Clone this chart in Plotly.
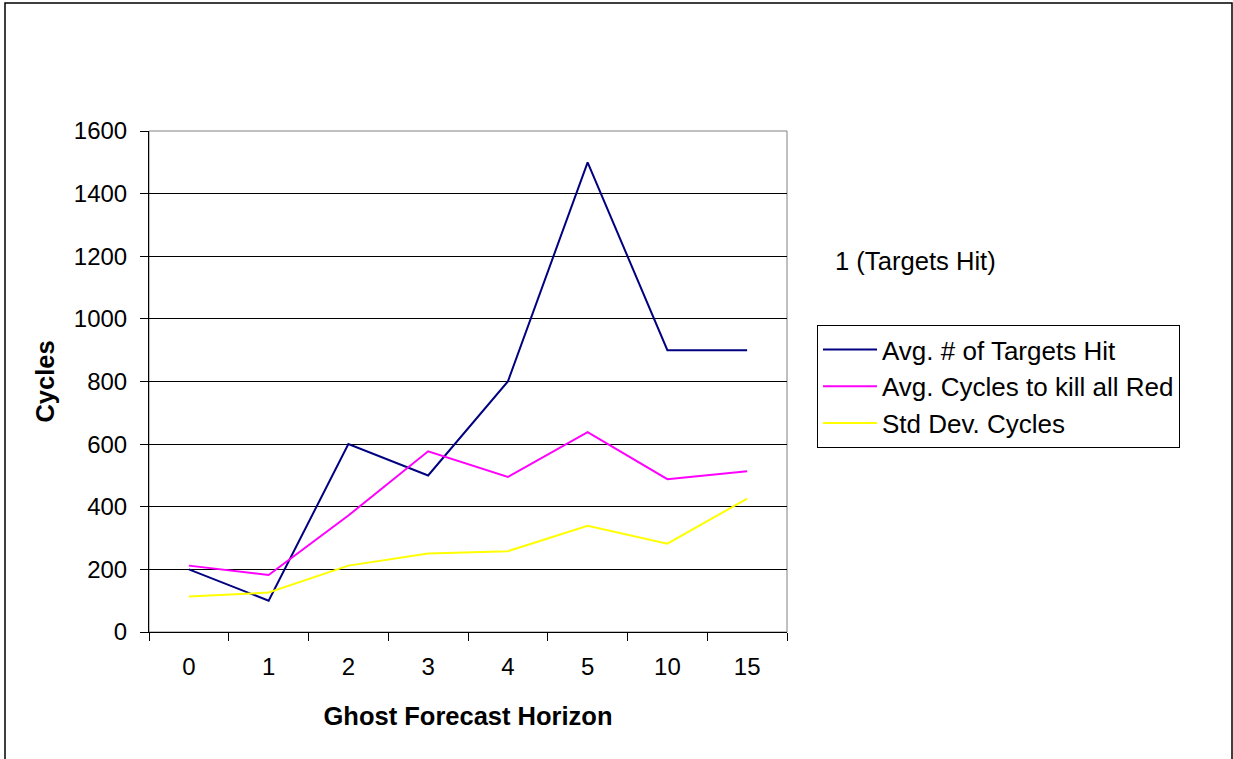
import plotly.graph_objects as go

categories = ["0", "1", "2", "3", "4", "5", "10", "15"]
targets_hit = [200, 100, 600, 500, 800, 1500, 900, 900]
cycles_kill = [212, 182, 372, 577, 495, 638, 488, 513]
std_dev = [113, 126, 212, 251, 258, 339, 282, 426]
y_ticks = [0, 200, 400, 600, 800, 1000, 1200, 1400, 1600]

FONT = "Liberation Sans, Arial, sans-serif"
W, H = 1233, 759
L, R, T, B = 149, 787, 131, 632
pw, ph = R - L, B - T

def px(x):
    return (x - L) / pw

def py(y):
    return (B - y) / ph

fig = go.Figure()
fig.add_trace(go.Scatter(x=categories, y=targets_hit, mode="lines",
                         name="Avg. # of Targets Hit",
                         line=dict(color="#000080", width=2)))
fig.add_trace(go.Scatter(x=categories, y=cycles_kill, mode="lines",
                         name="Avg. Cycles to kill all Red",
                         line=dict(color="#FF00FF", width=2)))
fig.add_trace(go.Scatter(x=categories, y=std_dev, mode="lines",
                         name="Std Dev. Cycles",
                         line=dict(color="#FFFF00", width=2)))

fig.update_layout(
    width=W, height=H,
    margin=dict(l=L, r=W - R, t=T, b=H - B, pad=0),
    paper_bgcolor="white", plot_bgcolor="white",
    font=dict(family=FONT, size=24, color="black"),
    showlegend=True,
    legend=dict(
        x=px(817), y=py(325), xanchor="left", yanchor="top",
        bordercolor="black", borderwidth=1, bgcolor="white",
        font=dict(family=FONT, size=26, color="black"),
        tracegroupgap=0, itemwidth=54,
    ),
    xaxis=dict(
        type="category", range=[-0.5, 7.5],
        showline=True, linecolor="black", linewidth=1,
        ticks="outside", ticklen=8, tickcolor="black", tickwidth=1,
        tickson="boundaries", showgrid=False, zeroline=False,
        tickfont=dict(size=24), ticklabelstandoff=13,
        title=dict(text="<b>Ghost Forecast Horizon</b>", font=dict(size=25.5), standoff=28),
    ),
    yaxis=dict(
        range=[0, 1600], tickvals=y_ticks,
        showline=True, linecolor="black", linewidth=1,
        ticks="outside", ticklen=8, tickcolor="black", tickwidth=1,
        showgrid=True, gridcolor="black", gridwidth=1, zeroline=False,
        tickfont=dict(size=24), ticklabelstandoff=8,
        title=dict(text="<b>Cycles</b>", font=dict(size=25.5), standoff=11),
    ),
    shapes=[
        dict(type="rect", xref="paper", yref="paper", x0=0, x1=1, y0=0, y1=1,
             line=dict(color="#808080", width=1), layer="below"),
        dict(type="rect", xref="paper", yref="paper",
             x0=px(5), x1=px(1232), y0=py(790), y1=py(3),
             line=dict(color="black", width=1.5)),
    ],
    annotations=[
        dict(text="1 (Targets Hit)", xref="paper", yref="paper",
             x=px(833), y=py(261), xanchor="left", yanchor="middle",
             showarrow=False, font=dict(size=25.6, color="black")),
    ],
)

fig.write_html("out.html", config={"displayModeBar": False},
               post_script="document.body.style.margin='0';document.body.style.overflow='hidden';")
